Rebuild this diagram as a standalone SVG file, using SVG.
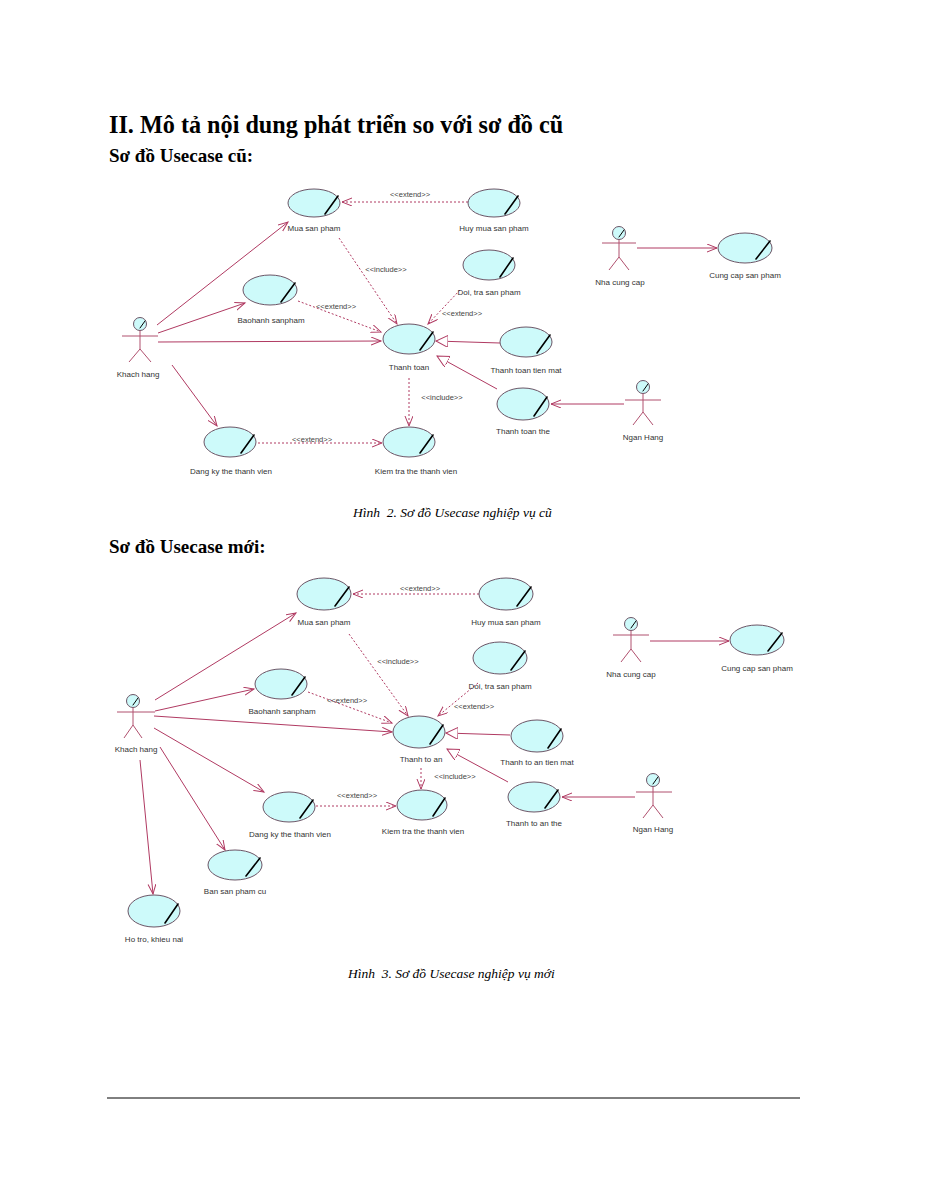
<svg xmlns="http://www.w3.org/2000/svg" width="927" height="1200" viewBox="0 0 927 1200">
<style>
.uc{fill:#cdfafa;stroke:#6b5566;stroke-width:1}
.pen{stroke:#000;stroke-width:1.6;stroke-linecap:round}
.hp{stroke:#000;stroke-width:1;stroke-linecap:round}
.lbl{font-family:"Liberation Sans",Arial,sans-serif;font-size:8px;fill:#333;text-anchor:middle}
.st{font-family:"Liberation Sans",Arial,sans-serif;font-size:7.5px;fill:#444;text-anchor:middle}
.act{fill:none;stroke:#b0506e;stroke-width:1}
.head{fill:#cdfafa;stroke:#6b5566;stroke-width:1}
.c{fill:none;stroke:#b03a62;stroke-width:1}
.d{fill:none;stroke:#b03a62;stroke-width:1;stroke-dasharray:2,2}
.h1{font-family:"Liberation Serif","Times New Roman",serif;font-weight:bold;fill:#000}
.cap{font-family:"Liberation Serif","Times New Roman",serif;font-style:italic;font-size:13.5px;fill:#000}
</style>
<defs>
<marker id="arr" markerUnits="userSpaceOnUse" markerWidth="12" markerHeight="10" refX="10" refY="4" orient="auto"><path d="M0,0 L10,4 L0,8" fill="none" stroke="#b03a62" stroke-width="1"/></marker>
<marker id="gen" markerUnits="userSpaceOnUse" markerWidth="14" markerHeight="14" refX="12" refY="6" orient="auto"><path d="M0,0 L12,6 L0,12 Z" fill="#fff" stroke="#b03a62" stroke-width="1"/></marker>
</defs>
<rect width="927" height="1200" fill="#fff"/>

<text class="h1" x="109" y="133" font-size="24.2">II. Mô tả nội dung phát triển so với sơ đồ cũ</text>
<text class="h1" x="109" y="162" font-size="19">Sơ đồ Usecase cũ:</text>

<!-- ===== Diagram 1 connectors ===== -->
<g id="connectors1">
<line class="c" x1="157" y1="325" x2="288" y2="222" marker-end="url(#arr)"/>
<line class="c" x1="158" y1="333" x2="245" y2="303" marker-end="url(#arr)"/>
<line class="c" x1="158" y1="342" x2="381" y2="341" marker-end="url(#arr)"/>
<line class="c" x1="172" y1="365" x2="217" y2="426" marker-end="url(#arr)"/>
<line class="d" x1="468" y1="202" x2="342" y2="202" marker-end="url(#arr)"/>
<text class="st" x="410" y="197">&lt;&lt;extend&gt;&gt;</text>
<line class="d" x1="339" y1="238" x2="397" y2="324" marker-end="url(#arr)"/>
<text class="st" x="386" y="272">&lt;&lt;include&gt;&gt;</text>
<line class="d" x1="298" y1="301" x2="381" y2="332" marker-end="url(#arr)"/>
<text class="st" x="336" y="309">&lt;&lt;extend&gt;&gt;</text>
<line class="d" x1="460" y1="290" x2="428" y2="324" marker-end="url(#arr)"/>
<text class="st" x="462" y="316">&lt;&lt;extend&gt;&gt;</text>
<line class="c" x1="500" y1="343" x2="436" y2="341" marker-end="url(#gen)"/>
<line class="c" x1="497" y1="389" x2="437" y2="356" marker-end="url(#gen)"/>
<line class="c" x1="624" y1="404" x2="551" y2="404" marker-end="url(#arr)"/>
<line class="d" x1="409" y1="378" x2="409" y2="426" marker-end="url(#arr)"/>
<text class="st" x="442" y="400">&lt;&lt;include&gt;&gt;</text>
<line class="d" x1="258" y1="443" x2="382" y2="443" marker-end="url(#arr)"/>
<text class="st" x="312" y="442">&lt;&lt;extend&gt;&gt;</text>
<line class="c" x1="637" y1="248" x2="717" y2="248" marker-end="url(#arr)"/>
</g>

<!-- ===== Diagram 1 nodes ===== -->
<g id="d1-mua"><ellipse class="uc" cx="314" cy="203" rx="26" ry="14"/><line class="pen" x1="325" y1="214" x2="338" y2="196"/><text class="lbl" x="314" y="231">Mua san pham</text></g>
<g id="d1-huy"><ellipse class="uc" cx="494" cy="203" rx="26" ry="14"/><line class="pen" x1="505" y1="214" x2="518" y2="196"/><text class="lbl" x="494" y="231">Huy mua san pham</text></g>
<g id="d1-doitra"><ellipse class="uc" cx="489" cy="265" rx="26" ry="15"/><line class="pen" x1="500" y1="277" x2="513" y2="258"/><text class="lbl" x="489" y="295">Doi, tra san pham</text></g>
<g id="d1-baohanh"><ellipse class="uc" cx="270" cy="290" rx="27" ry="15"/><line class="pen" x1="281" y1="302" x2="295" y2="283"/><text class="lbl" x="271" y="323">Baohanh sanpham</text></g>
<g id="d1-thanhtoan"><ellipse class="uc" cx="409" cy="339" rx="26" ry="15"/><line class="pen" x1="420" y1="350" x2="433" y2="332"/><text class="lbl" x="409" y="370">Thanh toan</text></g>
<g id="d1-tienmat"><ellipse class="uc" cx="526" cy="342" rx="26" ry="15"/><line class="pen" x1="537" y1="353" x2="550" y2="335"/><text class="lbl" x="526" y="373">Thanh toan tien mat</text></g>
<g id="d1-the"><ellipse class="uc" cx="523" cy="404" rx="26" ry="16"/><line class="pen" x1="534" y1="416" x2="547" y2="397"/><text class="lbl" x="523" y="434">Thanh toan the</text></g>
<g id="d1-kiemtra"><ellipse class="uc" cx="409" cy="442" rx="26" ry="15"/><line class="pen" x1="420" y1="453" x2="433" y2="435"/><text class="lbl" x="416" y="474">Kiem tra the thanh vien</text></g>
<g id="d1-dangky"><ellipse class="uc" cx="230" cy="442" rx="26" ry="15"/><line class="pen" x1="241" y1="453" x2="254" y2="435"/><text class="lbl" x="231" y="474">Dang ky the thanh vien</text></g>
<g id="d1-cungcap"><ellipse class="uc" cx="745" cy="248" rx="27" ry="15"/><line class="pen" x1="756" y1="259" x2="770" y2="241"/><text class="lbl" x="745" y="278">Cung cap san pham</text></g>

<g id="d1-khachhang"><circle class="head" cx="140" cy="324" r="6.5"/><line class="hp" x1="140" y1="328" x2="145" y2="321"/><path class="act" d="M140,330.5 V349 M122,336 H158 M140,349 L129,362 M140,349 L151,362"/><text class="lbl" x="138" y="377">Khach hang</text></g>
<g id="d1-nhacungcap"><circle class="head" cx="619" cy="233" r="6.5"/><line class="hp" x1="619" y1="237" x2="624" y2="230"/><path class="act" d="M619,239.5 V257 M602,243 H636 M619,257 L609,270 M619,257 L629,270"/><text class="lbl" x="620" y="285">Nha cung cap</text></g>
<g id="d1-nganhang"><circle class="head" cx="643" cy="387" r="6.5"/><line class="hp" x1="643" y1="391" x2="648" y2="384"/><path class="act" d="M643,393.5 V412 M625,400 H661 M643,412 L633,425 M643,412 L653,425"/><text class="lbl" x="643" y="440">Ngan Hang</text></g>

<text class="cap" x="353" y="517" xml:space="preserve">Hình  2. Sơ đồ Usecase nghiệp vụ cũ</text>

<text class="h1" x="109" y="553" font-size="19">Sơ đồ Usecase mới:</text>

<!-- ===== Diagram 2 connectors ===== -->
<g id="connectors2">
<line class="c" x1="155" y1="700" x2="296" y2="613" marker-end="url(#arr)"/>
<line class="c" x1="155" y1="711" x2="254" y2="689" marker-end="url(#arr)"/>
<line class="c" x1="154" y1="716" x2="392" y2="732" marker-end="url(#arr)"/>
<line class="c" x1="154" y1="728" x2="264" y2="792" marker-end="url(#arr)"/>
<line class="c" x1="160" y1="747" x2="225" y2="850" marker-end="url(#arr)"/>
<line class="c" x1="140" y1="760" x2="153" y2="894" marker-end="url(#arr)"/>
<line class="d" x1="479" y1="594" x2="353" y2="594" marker-end="url(#arr)"/>
<text class="st" x="420" y="591">&lt;&lt;extend&gt;&gt;</text>
<line class="d" x1="349" y1="634" x2="408" y2="716" marker-end="url(#arr)"/>
<text class="st" x="398" y="664">&lt;&lt;include&gt;&gt;</text>
<line class="d" x1="308" y1="692" x2="392" y2="723" marker-end="url(#arr)"/>
<text class="st" x="347" y="703">&lt;&lt;extend&gt;&gt;</text>
<line class="d" x1="478" y1="683" x2="438" y2="716" marker-end="url(#arr)"/>
<text class="st" x="474" y="709">&lt;&lt;extend&gt;&gt;</text>
<line class="c" x1="510" y1="735" x2="446" y2="733" marker-end="url(#gen)"/>
<line class="c" x1="508" y1="782" x2="447" y2="749" marker-end="url(#gen)"/>
<line class="c" x1="635" y1="797" x2="562" y2="797" marker-end="url(#arr)"/>
<line class="d" x1="421" y1="768" x2="421" y2="789" marker-end="url(#arr)"/>
<text class="st" x="455" y="779">&lt;&lt;include&gt;&gt;</text>
<line class="d" x1="316" y1="806" x2="396" y2="806" marker-end="url(#arr)"/>
<text class="st" x="357" y="798">&lt;&lt;extend&gt;&gt;</text>
<line class="c" x1="650" y1="641" x2="729" y2="641" marker-end="url(#arr)"/>
</g>

<!-- ===== Diagram 2 nodes ===== -->
<g id="d2-mua"><ellipse class="uc" cx="324" cy="594" rx="27" ry="16"/><line class="pen" x1="335" y1="606" x2="349" y2="587"/><text class="lbl" x="324" y="625">Mua san pham</text></g>
<g id="d2-huy"><ellipse class="uc" cx="506" cy="594" rx="27" ry="16"/><line class="pen" x1="517" y1="606" x2="531" y2="587"/><text class="lbl" x="506" y="625">Huy mua san pham</text></g>
<g id="d2-doitra"><ellipse class="uc" cx="500" cy="658" rx="27" ry="16"/><line class="pen" x1="511" y1="670" x2="525" y2="651"/><text class="lbl" x="500" y="689">Doi, tra san pham</text></g>
<g id="d2-baohanh"><ellipse class="uc" cx="281" cy="684" rx="26" ry="15"/><line class="pen" x1="292" y1="695" x2="305" y2="677"/><text class="lbl" x="282" y="714">Baohanh sanpham</text></g>
<g id="d2-thanhtoan"><ellipse class="uc" cx="419" cy="732" rx="26" ry="16"/><line class="pen" x1="430" y1="744" x2="443" y2="725"/><text class="lbl" x="421" y="762">Thanh to an</text></g>
<g id="d2-tienmat"><ellipse class="uc" cx="537" cy="736" rx="26" ry="16"/><line class="pen" x1="548" y1="748" x2="561" y2="729"/><text class="lbl" x="537" y="765">Thanh to an tien mat</text></g>
<g id="d2-the"><ellipse class="uc" cx="534" cy="797" rx="26" ry="15"/><line class="pen" x1="545" y1="808" x2="558" y2="790"/><text class="lbl" x="534" y="826">Thanh to an the</text></g>
<g id="d2-kiemtra"><ellipse class="uc" cx="422" cy="805" rx="25" ry="15"/><line class="pen" x1="433" y1="816" x2="445" y2="798"/><text class="lbl" x="423" y="834">Kiem tra the thanh vien</text></g>
<g id="d2-dangky"><ellipse class="uc" cx="289" cy="807" rx="26" ry="15"/><line class="pen" x1="300" y1="818" x2="313" y2="800"/><text class="lbl" x="290" y="837">Dang ky the thanh vien</text></g>
<g id="d2-bansp"><ellipse class="uc" cx="235" cy="865" rx="27" ry="15"/><line class="pen" x1="246" y1="876" x2="260" y2="858"/><text class="lbl" x="235" y="894">Ban san pham cu</text></g>
<g id="d2-hotro"><ellipse class="uc" cx="154" cy="911" rx="26" ry="16"/><line class="pen" x1="165" y1="923" x2="178" y2="904"/><text class="lbl" x="154" y="942">Ho tro, khieu nai</text></g>
<g id="d2-cungcap"><ellipse class="uc" cx="757" cy="640" rx="27" ry="15"/><line class="pen" x1="768" y1="651" x2="782" y2="633"/><text class="lbl" x="757" y="671">Cung cap san pham</text></g>

<g id="d2-khachhang"><circle class="head" cx="133" cy="701" r="6.5"/><line class="hp" x1="133" y1="705" x2="138" y2="698"/><path class="act" d="M133,707.5 V725 M117,712 H155 M133,725 L124,738 M133,725 L142,738"/><text class="lbl" x="136" y="752">Khach hang</text></g>
<g id="d2-nhacungcap"><circle class="head" cx="631" cy="624" r="6.5"/><line class="hp" x1="631" y1="628" x2="636" y2="621"/><path class="act" d="M631,630.5 V649 M613,635 H649 M631,649 L621,662 M631,649 L641,662"/><text class="lbl" x="631" y="677">Nha cung cap</text></g>
<g id="d2-nganhang"><circle class="head" cx="653" cy="780" r="6.5"/><line class="hp" x1="653" y1="784" x2="658" y2="777"/><path class="act" d="M653,786.5 V805 M636,792 H672 M653,805 L643,818 M653,805 L663,818"/><text class="lbl" x="653" y="832">Ngan Hang</text></g>

<text class="cap" x="348" y="978" xml:space="preserve">Hình  3. Sơ đồ Usecase nghiệp vụ mới</text>

<line x1="107" y1="1098" x2="800" y2="1098" stroke="#000" stroke-width="1"/>
</svg>
